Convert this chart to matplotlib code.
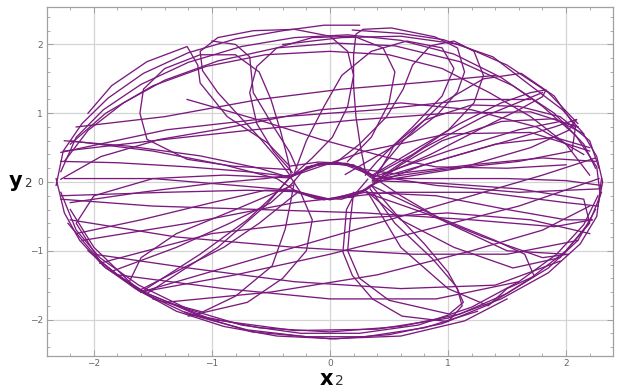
import numpy as np
import matplotlib
matplotlib.use("Agg")
import matplotlib.pyplot as plt

# Orbit of (x2, y2), stored as pieces of the path
top_arcs = [
    [(-2.32, -0.05), (-2.26, 0.45), (-2.10, 0.85), (-1.88, 1.22), (-1.58, 1.58), (-1.20, 1.88),
     (-0.80, 2.08), (-0.40, 2.20), (-0.05, 2.28), (0.25, 2.28)],
    [(-2.28, 0.15), (-2.15, 0.65), (-1.92, 1.05), (-1.60, 1.42), (-1.20, 1.74), (-0.75, 1.97),
     (-0.30, 2.10), (0.15, 2.14), (0.60, 2.06), (1.05, 1.86), (1.45, 1.52), (1.80, 1.10),
     (2.08, 0.68), (2.26, 0.22), (2.29, -0.20)],
    [(-2.25, 0.30), (-2.05, 0.75), (-1.75, 1.15), (-1.40, 1.48), (-0.95, 1.76), (-0.45, 1.95),
     (0.05, 2.02), (0.55, 1.98), (1.10, 1.75), (1.55, 1.40), (1.90, 1.00), (2.15, 0.55), (2.25, 0.20)],
    [(0.19, 2.21), (0.60, 2.16), (0.96, 2.07), (1.38, 1.82), (1.67, 1.44), (1.97, 1.05),
     (2.14, 0.72), (2.26, 0.37), (2.31, 0.00), (2.27, -0.35)],
    [(-2.20, 0.55), (-1.90, 1.00), (-1.50, 1.40), (-1.05, 1.68), (-0.55, 1.85), (0.00, 1.90),
     (0.50, 1.85), (0.95, 1.65), (1.35, 1.30), (1.70, 0.95), (2.00, 0.55), (2.20, 0.10)],
    [(-0.40, 2.00), (0.10, 2.10), (0.60, 2.12), (1.10, 2.00), (1.50, 1.70), (1.85, 1.30), (2.10, 0.85)],
]

bottom_arcs = [
    [(-2.32, 0.05), (-2.25, -0.45), (-2.12, -0.85), (-1.92, -1.22), (-1.65, -1.55), (-1.30, -1.88),
     (-0.90, -2.10), (-0.45, -2.24), (0.05, -2.28), (0.50, -2.22), (0.95, -2.06), (1.35, -1.78),
     (1.70, -1.40), (2.00, -1.00), (2.20, -0.58), (2.30, -0.15)],
    [(-2.28, -0.15), (-2.15, -0.70), (-1.95, -1.10), (-1.62, -1.50), (-1.20, -1.85), (-0.75, -2.08),
     (-0.25, -2.20), (0.25, -2.20), (0.75, -2.08), (1.20, -1.82), (1.60, -1.45), (1.92, -1.05),
     (2.15, -0.62), (2.27, -0.20)],
    [(-2.20, -0.40), (-2.00, -0.95), (-1.62, -1.58), (-1.20, -1.92), (-0.70, -2.15), (-0.20, -2.25),
     (0.30, -2.25), (0.80, -2.12), (1.25, -1.88)],
    [(-2.05, -1.00), (-1.80, -1.35), (-1.55, -1.62), (-1.10, -1.95), (-0.60, -2.12), (0.00, -2.18),
     (0.60, -2.10), (1.10, -1.92), (1.50, -1.62), (1.85, -1.25), (2.10, -0.85), (2.25, -0.40)],
    [(-1.23, -1.89), (-0.66, -2.18), (0.00, -2.28), (0.60, -2.24), (1.14, -2.02), (1.50, -1.70)],
    [(-2.22, -0.60), (-1.90, -1.25), (-1.58, -1.60), (-1.00, -2.00), (-0.30, -2.16), (0.40, -2.14),
     (1.00, -1.98), (1.45, -1.70), (1.85, -1.32), (2.12, -0.90), (2.26, -0.50), (2.30, 0.05)],
]

# near-straight passes that graze the hole around the origin
passes = [
    [(-1.60, -1.60), (-1.10, -1.05), (-0.70, -0.55), (-0.45, -0.15), (-0.33, 0.08), (-0.18, 0.22),
     (0.00, 0.28), (0.20, 0.24), (0.36, 0.08), (0.60, -0.20), (1.00, -0.60), (1.50, -1.00), (2.00, -1.05)],
    [(-2.20, 0.60), (-1.50, 0.45), (-0.90, 0.25), (-0.45, 0.05), (-0.30, -0.12), (-0.12, -0.24),
     (0.10, -0.25), (0.30, -0.12), (0.45, 0.10), (0.80, 0.50), (1.30, 0.95), (1.80, 1.30)],
    [(-1.55, -1.62), (-0.95, -0.95), (-0.55, -0.35), (-0.35, 0.05), (-0.15, 0.24), (0.10, 0.27),
     (0.35, 0.10), (0.90, -0.05), (1.60, -0.15), (2.28, -0.10)],
    [(-2.28, -0.20), (-1.40, -0.15), (-0.70, -0.12), (-0.30, -0.14), (0.00, -0.26), (0.32, -0.10),
     (0.60, 0.25), (0.95, 0.60), (1.45, 0.88), (1.90, 0.92), (2.15, 0.70)],
    [(-2.28, 0.30), (-1.80, 0.28), (-1.20, 0.22), (-0.70, 0.15), (-0.33, 0.08), (-0.10, 0.27),
     (0.20, 0.25), (0.36, 0.05), (0.90, 0.05), (1.50, 0.05), (2.00, 0.02), (2.30, -0.05)],
    [(-2.25, 0.60), (-1.70, 0.52), (-1.10, 0.38), (-0.60, 0.20), (-0.33, 0.06), (-0.25, -0.15),
     (0.00, -0.25), (0.30, -0.15), (0.90, -0.20), (1.50, -0.40), (2.00, -0.55), (2.22, -0.55)],
    [(-2.20, -0.30), (-1.60, -0.15), (-1.00, -0.02), (-0.55, 0.05), (-0.33, 0.10), (-0.05, 0.28),
     (0.25, 0.22), (0.38, 0.08), (1.00, 0.45), (1.60, 0.76), (1.95, 0.88), (2.10, 0.80)],
    [(-2.15, -0.75), (-1.60, -0.55), (-1.00, -0.30), (-0.55, -0.12), (-0.30, -0.12), (-0.05, -0.26),
     (0.28, -0.14), (0.80, -0.45), (1.30, -0.80), (1.80, -1.10), (2.02, -1.05)],
    [(-1.85, -1.30), (-1.30, -0.95), (-0.85, -0.60), (-0.50, -0.30), (-0.32, -0.02), (-0.20, 0.22),
     (0.05, 0.29), (0.30, 0.18), (0.55, 0.12), (1.20, 0.25), (1.80, 0.35), (2.25, 0.30)],
    [(-2.25, 0.05), (-1.50, 0.05), (-0.80, -0.05), (-0.33, -0.12), (-0.10, -0.25), (0.20, -0.22),
     (0.34, -0.05), (0.80, 0.25), (1.40, 0.55), (1.90, 0.65), (2.20, 0.50)],
    [(-2.28, 0.04), (-1.94, 0.37), (-1.44, 0.62), (-0.96, 0.76), (-0.08, 1.05), (0.60, 1.15),
     (1.20, 1.05), (1.75, 0.80), (2.15, 0.40)],
]

upper_loops = [
    [(-0.34, 0.10), (-0.45, 0.35), (-0.60, 0.65), (-0.78, 0.98), (-0.95, 1.30), (-1.08, 1.62),
     (-1.10, 1.90), (-0.95, 2.10), (-0.65, 2.20), (-0.30, 2.22), (0.00, 2.12), (0.15, 1.90),
     (0.20, 1.55), (0.15, 1.10), (0.02, 0.65), (-0.15, 0.35), (-0.30, 0.12)],
    [(-0.32, 0.14), (-0.48, 0.45), (-0.62, 0.85), (-0.68, 1.30), (-0.62, 1.68), (-0.45, 1.95),
     (-0.15, 2.10), (0.20, 2.12), (0.45, 1.95), (0.55, 1.60), (0.50, 1.15), (0.35, 0.65), (0.15, 0.30)],
    [(0.30, 0.15), (0.26, 0.50), (0.22, 0.95), (0.20, 1.40), (0.20, 1.85), (0.22, 2.15), (0.28, 2.22),
     (0.52, 2.24), (0.89, 2.11), (1.08, 1.95), (1.14, 1.60), (1.08, 1.31), (0.91, 0.98),
     (0.69, 0.69), (0.52, 0.50), (0.32, 0.30), (0.13, 0.11)],
    [(0.05, 0.28), (0.25, 0.55), (0.48, 0.95), (0.62, 1.35), (0.70, 1.70), (0.85, 1.98), (1.05, 2.05),
     (1.22, 1.90), (1.30, 1.55), (1.22, 1.15), (1.00, 0.75), (0.70, 0.40), (0.40, 0.12)],
    [(-0.34, 0.18), (-0.82, 0.23), (-1.21, 0.33), (-1.55, 0.62), (-1.61, 1.00), (-1.58, 1.35),
     (-1.40, 1.65), (-1.10, 1.85), (-0.80, 1.85), (-0.60, 1.60), (-0.50, 1.20), (-0.42, 0.75),
     (-0.36, 0.35), (-0.33, 0.12)],
    [(-2.05, 1.00), (-1.85, 1.40), (-1.55, 1.75), (-1.21, 1.97), (-1.12, 1.70), (-1.10, 1.44),
     (-0.87, 0.95), (-0.53, 0.57), (-0.34, 0.23), (-0.10, 0.29), (0.15, 0.27), (0.38, 0.08)],
    [(-1.00, 2.05), (-0.80, 2.00), (-0.68, 1.82), (-0.65, 1.30), (-0.48, 0.81), (-0.34, 0.43), (-0.28, 0.20)],
    [(-0.30, 0.14), (-0.20, 0.60), (-0.05, 1.10), (0.10, 1.55), (0.35, 1.90), (0.65, 2.05),
     (0.95, 1.95), (1.05, 1.65), (0.95, 1.25), (0.70, 0.80), (0.40, 0.30), (0.30, 0.10)],
    [(0.34, 0.08), (0.70, 0.45), (1.10, 0.85), (1.45, 1.15), (1.70, 1.30), (1.83, 1.34), (1.80, 1.24),
     (1.60, 1.05), (1.25, 0.75), (0.85, 0.40), (0.45, 0.10)],
    [(0.36, 0.03), (1.00, 0.35), (1.55, 0.62), (1.90, 0.80), (2.09, 0.91), (2.02, 0.75),
     (1.70, 0.50), (1.10, 0.20), (0.36, 0.00)],
    [(0.40, 0.10), (0.55, 0.55), (0.80, 0.90), (1.20, 1.12), (1.60, 1.10), (1.95, 0.95),
     (2.20, 0.60), (2.28, 0.20)],
    [(0.36, 0.06), (0.62, 0.60), (0.95, 1.15), (1.30, 1.50), (1.62, 1.58), (1.90, 1.25),
     (2.08, 0.80), (2.05, 0.45), (1.60, 0.30), (0.95, 0.18), (0.40, 0.05)],
    [(-1.21, 1.20), (-0.60, 0.90), (-0.08, 0.62), (0.50, 0.35), (0.90, 0.22), (1.50, 0.20), (2.00, 0.25)],
]

lower_loops = [
    [(0.32, 0.04), (0.20, -0.20), (0.14, -0.40), (0.11, -1.02), (0.19, -1.36), (0.36, -1.70),
     (0.61, -1.95), (1.00, -2.03), (1.12, -1.80), (1.08, -1.56), (1.00, -1.31), (0.80, -0.90),
     (0.55, -0.45), (0.35, -0.05)],
    [(0.20, -0.15), (0.17, -0.60), (0.15, -1.00), (0.25, -1.40), (0.50, -1.72), (1.01, -1.92),
     (1.13, -1.75), (1.07, -1.52), (0.87, -1.12), (0.55, -0.60), (0.34, -0.10)],
    [(0.35, -0.05), (0.90, -0.50), (1.40, -0.85), (1.65, -1.05), (1.73, -1.37), (1.50, -1.55),
     (1.34, -1.80), (1.00, -1.55), (0.60, -0.95), (0.32, -0.15)],
    [(-0.30, 0.02), (-0.34, -0.35), (-0.38, -0.69), (-0.49, -1.22), (-0.80, -1.66), (-1.08, -1.89),
     (-1.50, -1.70)],
    [(-0.25, -0.15), (-0.15, -0.55), (-0.20, -1.00), (-0.40, -1.40), (-0.70, -1.75), (-1.20, -1.95)],
    [(-0.32, -0.05), (-0.80, -0.40), (-1.30, -0.75), (-1.60, -1.10), (-1.70, -1.45), (-1.60, -1.60)],
    [(-0.28, -0.16), (-0.60, -0.60), (-0.90, -0.95), (-1.30, -1.30), (-1.62, -1.58), (-1.95, -1.15),
     (-2.15, -0.60), (-2.00, -0.20), (-1.50, 0.05), (-0.90, 0.10), (-0.34, 0.06)],
    [(0.30, -0.12), (0.60, -0.55), (1.05, -0.95), (1.55, -1.25), (1.95, -1.10), (2.20, -0.60),
     (2.15, -0.25), (1.60, -0.10), (0.95, -0.02), (0.36, 0.02)],
]

chords = [
    [(-2.25, 0.45), (-1.50, 0.60), (-0.70, 0.75), (0.20, 0.90), (1.00, 1.00), (1.70, 1.02), (2.10, 0.80)],
    [(-2.28, -0.25), (-1.50, -0.35), (-0.60, -0.40), (0.30, -0.45), (1.20, -0.55), (1.90, -0.65), (2.22, -0.55)],
    [(-2.20, -0.55), (-1.30, -0.80), (-0.30, -0.95), (0.70, -1.05), (1.50, -1.05), (2.10, -0.85)],
    [(-2.00, -1.05), (-1.20, -1.25), (-0.30, -1.45), (0.60, -1.55), (1.40, -1.50), (1.95, -1.15)],
    [(-1.60, -1.60), (-0.80, -1.35), (0.00, -1.05), (0.80, -0.70), (1.60, -0.35), (2.28, 0.05)],
    [(-1.60, -1.60), (-0.60, -1.10), (0.30, -0.65), (1.10, -0.25), (1.80, 0.10), (2.25, 0.35)],
    [(-1.80, -1.35), (-0.90, -1.55), (0.00, -1.70), (0.90, -1.70), (1.60, -1.45)],
    [(-2.10, -0.85), (-1.20, -0.60), (-0.30, -0.30), (0.50, -0.15), (1.30, -0.15), (2.00, -0.30), (2.27, -0.35)],
    [(-0.33, 0.08), (0.30, 0.45), (1.00, 0.70), (1.70, 0.72), (2.20, 0.45)],
    [(-2.28, 0.43), (-1.38, 0.76), (-0.40, 0.95), (0.40, 1.05), (1.20, 1.20), (1.70, 1.20)],
    [(-1.95, -1.18), (-1.00, -0.75), (0.00, -0.55), (1.00, -0.45), (1.70, -0.55), (2.20, -0.75)],
    [(-1.40, -1.75), (-0.50, -1.60), (0.40, -1.35), (1.20, -1.00), (1.80, -0.70), (2.20, -0.35)],
    [(-2.15, 0.80), (-1.40, 0.95), (-0.60, 1.20), (0.10, 1.35), (0.80, 1.45), (1.40, 1.55)],
]

LINE_COLOR = "#7b1a7e"
GRID_COLOR = "#d4d4d4"
FRAME_COLOR = "#a0a0a0"

fig = plt.figure(figsize=(6.29, 3.90), dpi=100)
ax = fig.add_axes([0.0742, 0.0872, 0.9008, 0.8958])

for group in (top_arcs, bottom_arcs, passes, upper_loops, lower_loops, chords):
    for piece in group:
        xy = np.asarray(piece)
        ax.plot(xy[:, 0], xy[:, 1], color=LINE_COLOR, lw=0.95, solid_joinstyle="round", zorder=3)

ax.set_xlim(-2.4, 2.4)
ax.set_ylim(-2.53, 2.55)
ax.set_xticks([-2, -1, 0, 1, 2])
ax.set_yticks([-2, -1, 0, 1, 2])
ax.set_xticks(np.arange(-2.2, 2.3, 0.2), minor=True)
ax.set_yticks(np.arange(-2.4, 2.5, 0.2), minor=True)
ax.grid(True, which="major", color=GRID_COLOR, lw=0.9, zorder=0)

ax.tick_params(which="both", direction="in", top=True, right=True,
               color=FRAME_COLOR, labelsize=6.5, labelcolor="#666666")
ax.tick_params(which="major", length=4, width=0.7, pad=2.5)
ax.tick_params(which="minor", length=2, width=0.6)
for s in ax.spines.values():
    s.set_color(FRAME_COLOR)
    s.set_linewidth(0.9)

# axis names: bold letter with a plain subscript
fig.text(0.014, 0.520, "y", fontsize=15, fontweight="bold", color="black")
fig.text(0.039, 0.520, "2", fontsize=8.5, color="#333333")
fig.text(0.508, 0.012, "x", fontsize=15, fontweight="bold", color="black")
fig.text(0.533, 0.012, "2", fontsize=10, color="#333333")

fig.savefig("out.png", dpi=100)
